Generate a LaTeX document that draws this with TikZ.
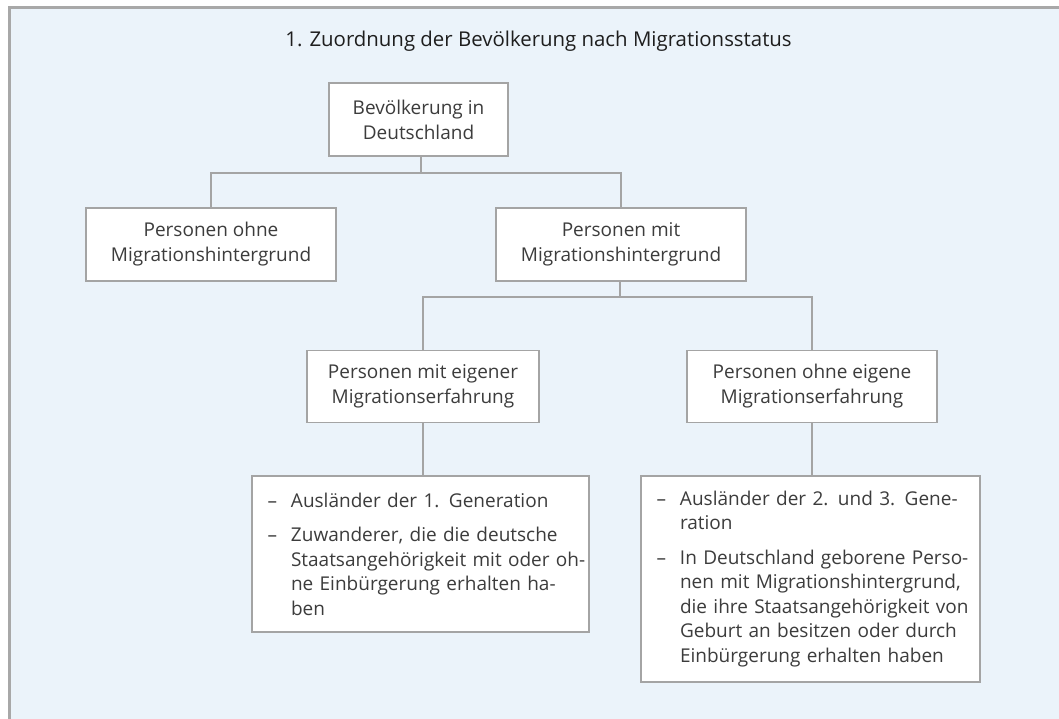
\documentclass[tikz,border=0pt]{standalone}
\usepackage{fontspec}
\setmainfont{Open Sans}
\definecolor{bgblue}{HTML}{EBF3FA}
\definecolor{framegray}{HTML}{A8A8A8}
\definecolor{boxline}{HTML}{A4A4A4}
\definecolor{txtgray}{HTML}{3C3C3C}
\definecolor{titlegray}{HTML}{1E1E1E}
\newcommand{\dashmark}{\makebox[23.5pt][l]{–}}
\newcommand{\hangsp}{\hspace*{23.5pt}}
\begin{document}
\begin{tikzpicture}[x=1pt,y=-1pt,
  box/.style={draw=boxline, fill=white, line width=1.2pt, inner sep=0pt,
    align=center, text=txtgray, font=\fontsize{19}{25}\selectfont},
  listbox/.style={draw=boxline, fill=white, line width=1.2pt, inner xsep=15.5pt,
    inner ysep=0pt, align=left, text=txtgray, font=\fontsize{19}{24.5}\selectfont},
  conn/.style={draw=boxline, line width=1.2pt}]
\useasboundingbox (0,0) rectangle (1059,719);
\fill[white] (0,0) rectangle (1059,719);
\fill[bgblue] (10,9) rectangle (1059,719);
\draw[framegray, line width=3pt] (9.5,719) -- (9.5,7.5) -- (1059,7.5);

\node[anchor=base, text=titlegray, font=\fontsize{20.4}{25}\selectfont, inner sep=0pt] (title) at (538.5,46.7)
  {1. Zuordnung der Bevölkerung nach Migrationsstatus};

\node[box, minimum width=179pt, minimum height=73pt] (b1) at (418.5,119.5) {Bevölkerung in\\Deutschland};
\node[box, minimum width=250pt, minimum height=73pt] (b2) at (211,244.5) {Personen ohne\\Migrationshintergrund};
\node[box, minimum width=250pt, minimum height=73pt] (b3) at (621,244.5) {Personen mit\\Migrationshintergrund};
\node[box, minimum width=232pt, minimum height=72pt] (b4) at (423,386.5) {Personen mit eigener\\Migrationserfahrung};
\node[box, minimum width=250pt, minimum height=72pt] (b5) at (812,386.5) {Personen ohne eigene\\Migrationserfahrung};

\node[listbox, text width=306pt, minimum height=156pt] (b6) at (420.5,554) {%
\dashmark Ausländer der 1. Generation\\[10pt]
\dashmark\makebox[282.5pt][s]{Zuwanderer, die die deutsche}\\
\hangsp\makebox[282.5pt][s]{Staatsangehörigkeit mit oder oh-}\\
\hangsp\makebox[282.5pt][s]{ne Einbürgerung erhalten ha-}\\
\hangsp ben};

\node[listbox, text width=308pt, minimum height=206pt] (b7) at (810.5,579) {%
\dashmark\makebox[284.5pt][s]{Ausländer der 2. und 3. Gene-}\\
\hangsp ration\\[10pt]
\dashmark\makebox[284.5pt][s]{In Deutschland geborene Perso-}\\
\hangsp\makebox[284.5pt][s]{nen mit Migrationshintergrund,}\\
\hangsp\makebox[284.5pt][s]{die ihre Staatsangehörigkeit von}\\
\hangsp\makebox[284.5pt][s]{Geburt an besitzen oder durch}\\
\hangsp Einbürgerung erhalten haben};

\coordinate (j1) at (421,173);
\coordinate (j2) at (620,297);
\draw[conn] (b1.south -| j1) -- (j1);
\draw[conn] (b2.north) -- (b2.north |- j1) -- (b3.north |- j1) -- (b3.north);
\draw[conn] (b3.south -| j2) -- (j2);
\draw[conn] (b4.north) -- (b4.north |- j2) -- (b5.north |- j2) -- (b5.north);
\draw[conn] (b4.south) -- (b4.south |- b6.north);
\draw[conn] (b5.south) -- (b5.south |- b7.north);
\end{tikzpicture}
\end{document}
